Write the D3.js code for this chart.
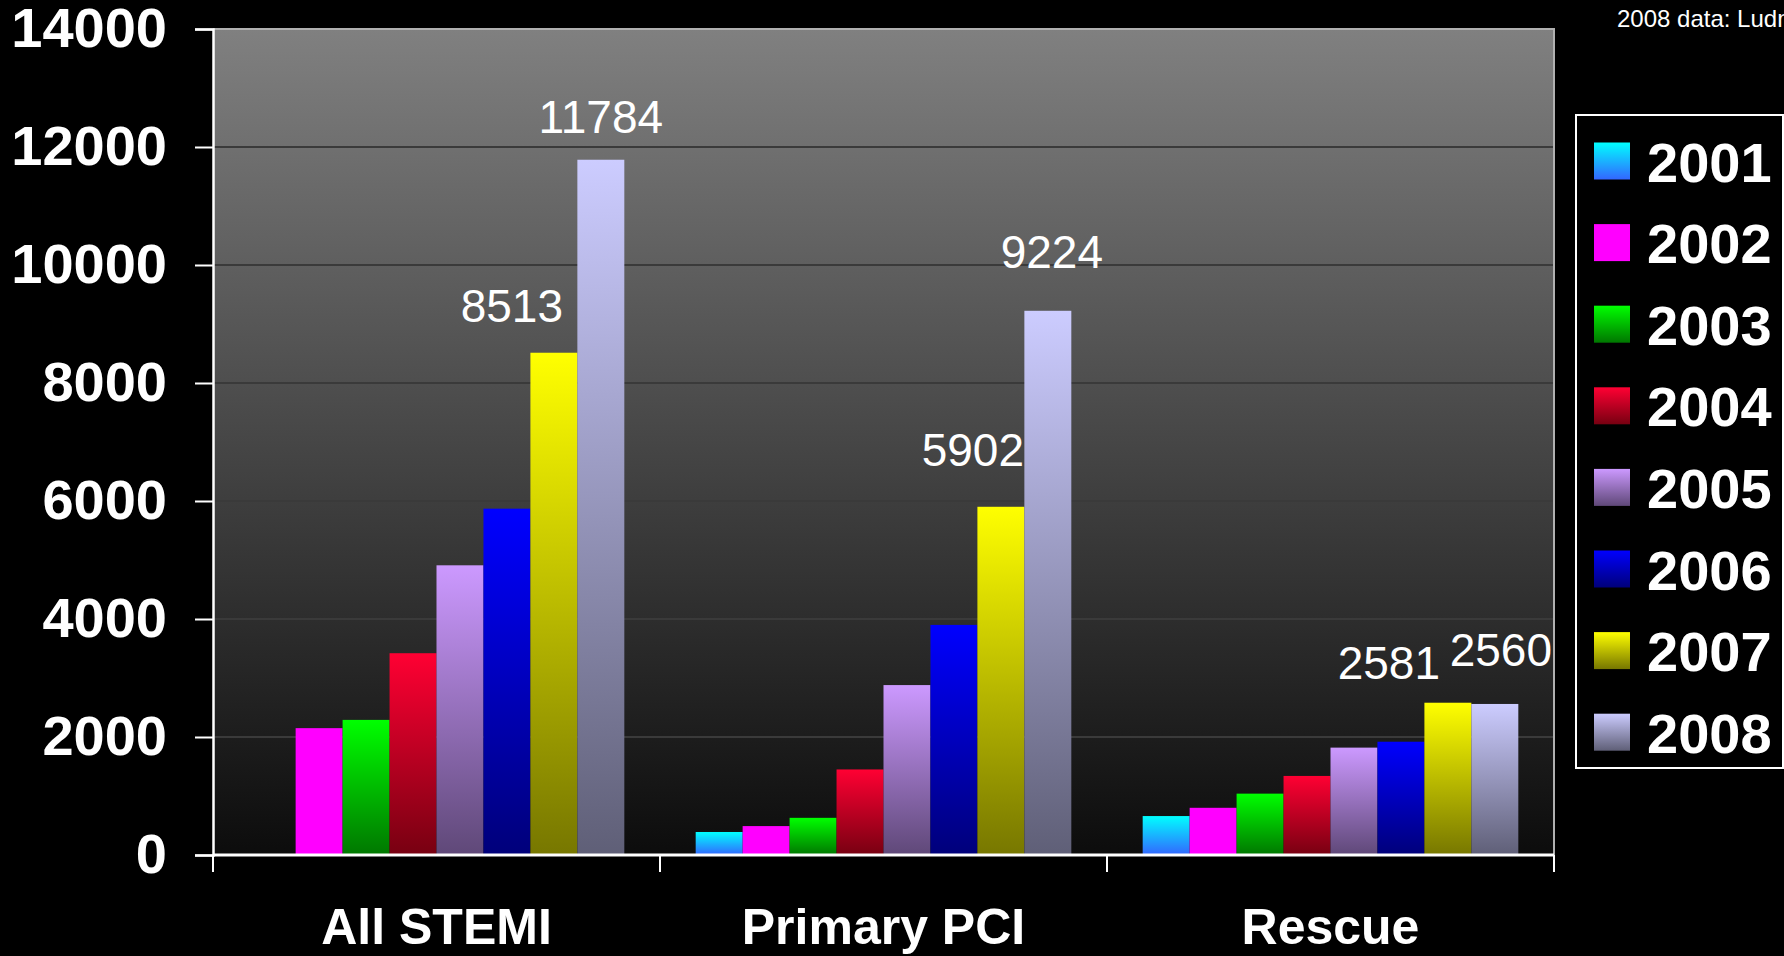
<!DOCTYPE html>
<html>
<head>
<meta charset="utf-8">
<script src="https://cdn.jsdelivr.net/npm/d3@7"></script>
<style>
  html, body { margin: 0; padding: 0; background: #000; overflow: hidden; }
  svg { display: block; font-family: "Liberation Sans", Arial, sans-serif; }
</style>
</head>
<body>
<div id="chart"></div>
<script>
// values
const categories = ["All STEMI", "Primary PCI", "Rescue"];
const years = ["2001", "2002", "2003", "2004", "2005", "2006", "2007", "2008"];
const allStemi   = [null, 2150, 2290, 3420, 4910, 5870, 8513, 11784];
const primaryPci = [390, 490, 630, 1450, 2880, 3900, 5902, 9224];
const rescue     = [660, 800, 1040, 1340, 1820, 1920, 2581, 2560];
const yTicks = [0, 2000, 4000, 6000, 8000, 10000, 12000, 14000];
const labelledYears = ["2007", "2008"];

// bar gradient colours, top -> bottom
const colorTop    = ["#00ffff", "#ff00ff", "#00ff00", "#ff0033", "#cc99ff", "#0000ff", "#ffff00", "#ccccff"];
const colorBottom = ["#3366ff", "#ff00ff", "#007700", "#770011", "#5f4878", "#00007a", "#777700", "#5f5f77"];

// hand placed value labels: [dx from bar centre, gap above bar]
const labelNudge = {
  "All STEMI":   { "2007": [-42, 31], "2008": [0, 27] },
  "Primary PCI": { "2007": [-28, 41], "2008": [4, 43] },
  "Rescue":      { "2007": [-59, 24], "2008": [6, 38] }
};

const series = [allStemi, primaryPci, rescue];
const data = [];
categories.forEach((c, i) => {
  years.forEach((y, j) => {
    if (series[i][j] != null) data.push({ cat: c, year: y, yi: j, value: series[i][j] });
  });
});

const W = 1784, H = 956;
const plot = { left: 213, right: 1554, top: 29, bottom: 855 };

const svg = d3.select("#chart").append("svg")
  .attr("width", W).attr("height", H);

svg.append("rect").attr("width", W).attr("height", H).attr("fill", "#000");

const defs = svg.append("defs");
const bg = defs.append("linearGradient").attr("id", "bg")
  .attr("x1", 0).attr("y1", 0).attr("x2", 0).attr("y2", 1);
bg.append("stop").attr("offset", "0%").attr("stop-color", "#808080");
bg.append("stop").attr("offset", "100%").attr("stop-color", "#0c0c0c");

years.forEach((y, j) => {
  const g = defs.append("linearGradient").attr("id", "g" + y)
    .attr("x1", 0).attr("y1", 0).attr("x2", 0).attr("y2", 1);
  g.append("stop").attr("offset", "0%").attr("stop-color", colorTop[j]);
  g.append("stop").attr("offset", "100%").attr("stop-color", colorBottom[j]);
});

const x0 = d3.scaleBand().domain(categories).range([plot.left, plot.right]).padding(0);
const x1 = d3.scaleBand().domain(years).range([0, x0.bandwidth()])
  .paddingInner(0).paddingOuter(0.76);
const y = d3.scaleLinear().domain([0, 14000]).range([plot.bottom, plot.top]);

// plot background
svg.append("rect")
  .attr("x", plot.left).attr("y", plot.top)
  .attr("width", plot.right - plot.left).attr("height", plot.bottom - plot.top)
  .attr("fill", "url(#bg)");

// gridlines
svg.append("g")
  .selectAll("line")
  .data(yTicks.filter(t => t > 0 && t < 14000))
  .join("line")
  .attr("x1", plot.left).attr("x2", plot.right)
  .attr("y1", d => y(d)).attr("y2", d => y(d))
  .attr("stroke", "#3a3a3a").attr("stroke-width", 2);

// frame top and right
svg.append("path")
  .attr("d", `M${plot.left},${plot.top}H${plot.right}V${plot.bottom}`)
  .attr("fill", "none").attr("stroke", "#b0b0b0").attr("stroke-width", 2);

// bars
svg.append("g")
  .selectAll("rect")
  .data(data)
  .join("rect")
  .attr("x", d => x0(d.cat) + x1(d.year))
  .attr("y", d => y(d.value))
  .attr("width", x1.bandwidth())
  .attr("height", d => y(0) - y(d.value))
  .attr("fill", d => `url(#g${d.year})`);

// value labels
svg.append("g")
  .selectAll("text")
  .data(data.filter(d => labelledYears.includes(d.year)))
  .join("text")
  .attr("x", d => x0(d.cat) + x1(d.year) + x1.bandwidth() / 2 + labelNudge[d.cat][d.year][0])
  .attr("y", d => y(d.value) - labelNudge[d.cat][d.year][1])
  .attr("text-anchor", "middle")
  .attr("fill", "#fff")
  .style("font-size", "46px")
  .text(d => d.value);

// y axis
const yAxis = svg.append("g")
  .attr("transform", `translate(${plot.left},0)`)
  .call(d3.axisLeft(y).tickValues(yTicks).tickSize(18).tickPadding(28).tickFormat(d3.format("d")));
yAxis.select(".domain").attr("stroke", "#fff").attr("stroke-width", 2.5);
yAxis.selectAll(".tick line").attr("stroke", "#fff").attr("stroke-width", 2);
yAxis.selectAll(".tick text")
  .attr("fill", "#fff")
  .style("font-size", "56px").style("font-weight", "bold")
  .style("font-family", "'Liberation Sans', Arial, sans-serif");

// x axis
svg.append("line")
  .attr("x1", plot.left).attr("x2", plot.right)
  .attr("y1", plot.bottom).attr("y2", plot.bottom)
  .attr("stroke", "#fff").attr("stroke-width", 3);
const bounds = categories.map(c => x0(c)).concat([plot.right]);
svg.append("g")
  .selectAll("line")
  .data(bounds)
  .join("line")
  .attr("x1", d => d).attr("x2", d => d)
  .attr("y1", plot.bottom).attr("y2", plot.bottom + 17)
  .attr("stroke", "#fff").attr("stroke-width", 2);
svg.append("g")
  .selectAll("text")
  .data(categories)
  .join("text")
  .attr("x", d => x0(d) + x0.bandwidth() / 2)
  .attr("y", 944)
  .attr("text-anchor", "middle")
  .attr("fill", "#fff")
  .style("font-size", "50px").style("font-weight", "bold")
  .text(d => d);

// legend
const lg = svg.append("g");
lg.append("rect")
  .attr("x", 1576).attr("y", 115).attr("width", 207).attr("height", 653)
  .attr("fill", "#000").attr("stroke", "#fff").attr("stroke-width", 2);
const item = lg.selectAll("g.item")
  .data(years)
  .join("g")
  .attr("class", "item")
  .attr("transform", (d, i) => `translate(1594,${142.5 + i * 81.6})`);
item.append("rect")
  .attr("width", 36).attr("height", 37)
  .attr("fill", d => `url(#g${d})`);
item.append("text")
  .attr("x", 53).attr("y", 39)
  .attr("fill", "#fff")
  .style("font-size", "56px").style("font-weight", "bold")
  .text(d => d);

// source note, cut off by the page edge as in the original
svg.append("text")
  .attr("x", 1617).attr("y", 27)
  .attr("fill", "#fff")
  .style("font-size", "24px")
  .text("2008 data: Ludman PF");
</script>
</body>
</html>
